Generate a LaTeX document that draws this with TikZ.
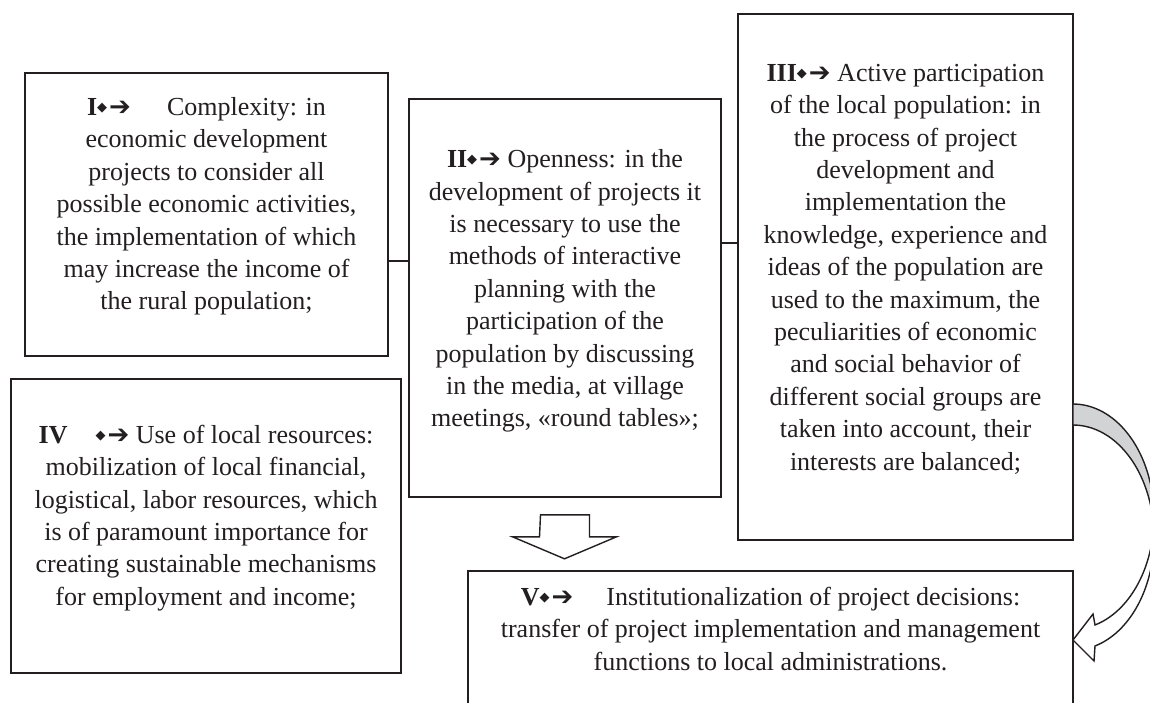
\documentclass[tikz,border=0pt]{standalone}
\usepackage{fontspec}
\setmainfont{Liberation Serif}
\newfontfamily\symfont{DejaVu Sans}
\usepackage{tikz}
\definecolor{ink}{RGB}{35,31,32}
\definecolor{shade}{RGB}{209,211,212}
\newcommand{\mkdia}{\raisebox{4pt}{\symfont\fontsize{13pt}{13pt}\selectfont ◆}}
\newcommand{\mkarr}{\hspace{2pt}{\symfont ➔}}

\begin{document}
\begin{tikzpicture}[x=1pt,y=-1pt]
  \tikzstyle{box}=[draw=ink, line width=1.6pt, fill=white, inner sep=0pt]
  \tikzstyle{txt}=[text=ink, align=center, inner sep=0pt, font=\fontsize{26pt}{32.4pt}\selectfont]
  \tikzstyle{link}=[draw=ink, line width=1.4pt]
  \tikzstyle{hollow}=[draw=ink, line width=1.4pt, fill=white, line join=miter]
  \useasboundingbox (0,0) rectangle (1150,702);
  \clip (0,0) rectangle (1150,702);
  % boxes
  \node[box, minimum width=363pt, minimum height=283pt] (b1) at (206.5,214.5) {};
  \node[box, minimum width=312pt, minimum height=398pt] (b2) at (565,298) {};
  \node[box, minimum width=335pt, minimum height=526pt] (b3) at (905.5,277) {};
  \node[box, minimum width=390pt, minimum height=294pt] (b4) at (206,526) {};
  \node[box, minimum width=605pt, minimum height=169pt] (b5) at (770.5,655.5) {};
  % texts
  \node[txt] (t1) at ([yshift=8pt]b1.center) {\textbf{I}\mkdia\mkarr\hspace{36pt}Complexity: in\\
    economic development\\ projects to consider all\\ possible economic activities,\\
    the implementation of which\\ may increase the income of\\ the rural population;};
  \node[txt] (t2) at ([yshift=7pt]b2.center) {\textbf{II}\mkdia\mkarr{} Openness: in the\\
    development of projects it\\ is necessary to use the\\ methods of interactive\\
    planning with the\\ participation of the\\ population by discussing\\
    in the media, at village\\ meetings, «round tables»;};
  \node[txt] (t3) at ([yshift=8pt]b3.center) {\textbf{III}\mkdia\mkarr{} Active participation\\
    of the local population: in\\ the process of project\\ development and\\
    implementation the\\ knowledge, experience and\\ ideas of the population are\\
    used to the maximum, the\\ peculiarities of economic\\ and social behavior of\\
    different social groups are\\ taken into account, their\\ interests are balanced;};
  \node[txt] (t4) at ([yshift=8pt]b4.center) {\textbf{IV}\hspace{28pt}\mkdia\mkarr{} Use of local resources:\\
    mobilization of local financial,\\ logistical, labor resources, which\\
    is of paramount importance for\\ creating sustainable mechanisms\\ for employment and income;};
  \node[txt] (t5) at ([yshift=26.5pt]b5.center) {\textbf{V}\mkdia\mkarr\hspace{33pt}Institutionalization of project decisions:\\
    transfer of project implementation and management\\ functions to local administrations.};
  % links
  \coordinate (y12) at (0,261);
  \coordinate (y23) at (0,243);
  \draw[link] (b1.east |- y12) -- (b2.west |- y12);
  \draw[link] (b2.east |- y23) -- (b3.west |- y23);
  % hollow arrow under II
  \draw[hollow] ([shift={(-24.5,17)}]b2.south) -- ++(49,0) -- ++(0,22) -- ++(27,0)
    -- ++(-52,22) -- ++(-52,-22) -- ++(27,0) -- cycle;
  % curved arrow III -> V
  \draw[draw=ink, line width=1.4pt, fill=shade]
    plot[domain=-90:5.35, samples=40] ({1073+81*cos(\x)}, {516.6+112.6*sin(\x)})
    -- plot[domain=-5.35:-90, samples=40] ({1073+81*cos(\x)}, {537.6+112.6*sin(\x)}) -- cycle;
  \draw[draw=ink, line width=1.4pt, fill=white, line join=miter]
    plot[domain=5.35:74.24, samples=40] ({1073+81*cos(\x)}, {516.6+112.6*sin(\x)})
    -- (1093,614) -- (1073,640) -- (1094,661)
    -- plot[domain=74.24:-5.35, samples=40] ({1073+81*cos(\x)}, {537.6+112.6*sin(\x)}) -- cycle;
\end{tikzpicture}
\end{document}
